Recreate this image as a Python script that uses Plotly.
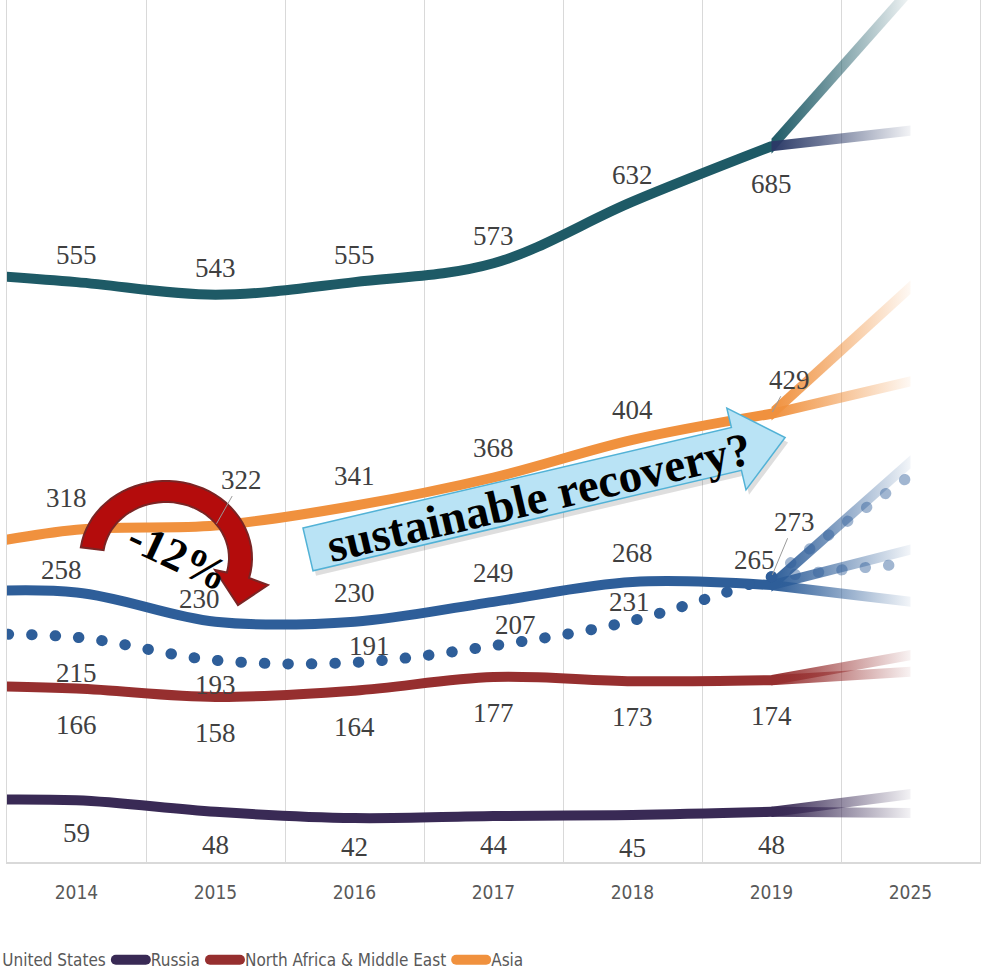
import math
import plotly.graph_objects as go

# ------------------------------------------------------------------ data
years = ["2013", "2014", "2015", "2016", "2017", "2018", "2019", "2025"]
hist_years = ["2013", "2014", "2015", "2016", "2017", "2018", "2019"]
label_years = hist_years[1:]

# the 2013 value lies beyond the left edge of the picture; estimated from the visible line stubs
europe = [565, 555, 543, 555, 573, 632, 685]
north_america = [257, 258, 230, 230, 249, 268, 265]
united_states = [218, 215, 193, 191, 207, 231, 273]
russia = [59, 59, 48, 42, 44, 45, 48]
mena = [169, 166, 158, 164, 177, 173, 174]
asia = [296, 318, 322, 341, 368, 404, 429]

# 2025 scenarios (fan of projections from 2019)
europe_2025 = [835, 700]
asia_2025 = [550, 460]
north_america_2025 = [383, 299, 249]
united_states_2025 = [370, 286]
mena_2025 = [198, 182]
russia_2025 = [65, 47]

# ------------------------------------------------------------------ layout constants
W, H = 987, 972
ML, MR, MT, MB = 7, 7, 0, 110
Y_MAX = 825
PW, PH = W - ML - MR, H - MT - MB
YPX = PH / Y_MAX          # pixels per unit
XPX = PW / 7              # pixels per category

SERIF = "Liberation Serif, DejaVu Serif, serif"
NARROW = ("Noto Sans ExtraCondensed, Noto Sans Condensed, DejaVu Sans Condensed, "
          "Liberation Sans Narrow, Liberation Sans, sans-serif")
LABEL_COLOR = "#404040"
LW = 10


def rgba(c, a):
    return "rgba(%d,%d,%d,%.3f)" % (c[0], c[1], c[2], a)


def paper(px, py):
    return (px - ML) / PW, (H - MB - py) / PH


series = [
    dict(name="Europe", y=europe, color=(30, 90, 102), width=LW, dash="solid", legend=False,
         proj=europe_2025, proj_colors=[(30, 90, 102), (43, 58, 103)], dy=-27),
    dict(name="North America", y=north_america, color=(46, 94, 153), width=LW, dash="solid", legend=False,
         proj=north_america_2025, proj_colors=[(46, 94, 153)] * 3, dy=-29),
    dict(name="United States", y=united_states, color=(46, 94, 153), width=11, dash="0.5px,23px", legend=True,
         proj=united_states_2025, proj_colors=[(46, 94, 153)] * 2, dy=-20),
    dict(name="Russia", y=russia, color=(57, 42, 85), width=LW, dash="solid", legend=True,
         proj=russia_2025, proj_colors=[(57, 42, 85)] * 2, dy=33),
    dict(name="North Africa & Middle East", y=mena, color=(150, 47, 47), width=LW, dash="solid", legend=True,
         proj=mena_2025, proj_colors=[(150, 47, 47)] * 2, dy=36),
    dict(name="Asia", y=asia, color=(240, 145, 62), width=LW, dash="solid", legend=True,
         proj=asia_2025, proj_colors=[(240, 145, 62)] * 2, dy=-30),
]

# label placement tweaks (pixels; dy>0 = below the point) and leader-line labels
label_shift = {
    ("Europe", "2019"): (0, 38),
    ("Asia", "2014"): (-10, -32),
    ("North America", "2014"): (-15, -22),
    ("North America", "2015"): (-16, -23),
    ("North America", "2019"): (-17, -25),
    ("United States", "2014"): (0, 36),
    ("United States", "2015"): (0, 25),
    ("United States", "2016"): (15, -16),
    ("United States", "2017"): (22, -21),
    ("United States", "2018"): (-3, -19),
    ("Russia", "2016"): (0, 29),
    ("Russia", "2017"): (0, 29),
}
leader = {
    ("Asia", "2015"): (26, -46),
    ("Asia", "2019"): (18, -34),
    ("United States", "2019"): (23, -55),
}

fig = go.Figure()

# main lines
for s in series:
    fig.add_trace(go.Scatter(
        x=hist_years, y=s["y"], name=s["name"], mode="lines", showlegend=s["legend"],
        line=dict(color=rgba(s["color"], 1), width=s["width"], dash=s["dash"],
                  shape="spline", smoothing=1.0),
        hoverinfo="skip"))

# projections 2019 -> 2025 (fading bands; dotted ones as faint dotted lines)
for s in series:
    v0 = s["y"][-1]
    for v1, c in zip(s["proj"], s["proj_colors"]):
        if s["dash"] != "solid":
            fig.add_trace(go.Scatter(
                x=["2019", "2025"], y=[v0, v1], mode="lines", showlegend=False,
                line=dict(color=rgba(c, 0.45), width=s["width"], dash=s["dash"]),
                hoverinfo="skip"))
            continue
        dy_px = (v1 - v0) * YPX
        sec = math.hypot(XPX, dy_px) / XPX
        h = s["width"] / 2 * sec / YPX
        fig.add_trace(go.Scatter(
            x=["2019", "2025", "2025", "2019", "2019"],
            y=[v0 - h, v1 - h, v1 + h, v0 + h, v0 - h],
            mode="lines", line=dict(width=0), fill="toself",
            fillgradient=dict(type="horizontal",
                              colorscale=[[0, rgba(c, 1)], [0.35, rgba(c, 0.7)], [1, rgba(c, 0.06)]]),
            showlegend=False, hoverinfo="skip"))

annotations = []
for s in series:
    for yr, v in zip(label_years, s["y"][1:]):
        key = (s["name"], yr)
        xi = years.index(yr)
        if key in leader:
            ax, ay = leader[key]
            annotations.append(dict(
                x=xi, y=v, xref="x", yref="y", text=str(v), showarrow=True,
                ax=ax, ay=ay, arrowhead=0, arrowwidth=1, arrowcolor="#9a9a9a",
                standoff=2, font=dict(family=SERIF, size=27, color=LABEL_COLOR)))
        else:
            dx, dy = label_shift.get(key, (0, s["dy"]))
            annotations.append(dict(
                x=xi, y=v, xref="x", yref="y", text=str(v), showarrow=False,
                xanchor="center", yanchor="middle", xshift=dx, yshift=-dy,
                font=dict(family=SERIF, size=27, color=LABEL_COLOR)))

# ------------------------------------------------------------------ decorations
shapes = []

# curved red arrow (-12%)
def ell(cx, cy, rx, ry, a0, a1, k=40):
    return [(cx + rx * math.cos(math.radians(a0 + (a1 - a0) * i / k)),
             cy - ry * math.sin(math.radians(a0 + (a1 - a0) * i / k))) for i in range(k + 1)]

outer = ell(166, 558, 86, 77, 172, -15)
inner = ell(166, 558, 63, 56, -15, 172)
head = [(268, 585), (238, 605), (215, 570)]
pts = outer + head + inner
path = "M " + " L ".join("%.4f,%.4f" % paper(*p) for p in pts) + " Z"
shapes.append(dict(type="path", xref="paper", yref="paper", path=path,
                   fillcolor="#b40c0c", line=dict(color="#7a2424", width=2), layer="above"))

# block arrow "sustainable recovery?"
ang = math.radians(13.2)
dvec = (math.cos(ang), -math.sin(ang))
nvec = (math.sin(ang), math.cos(ang))
TL = (303, 528)
L, BW, BARB, HEAD = 440, 44, 20, 50
def add(p, v, k):
    return (p[0] + v[0] * k, p[1] + v[1] * k)
TR = add(TL, dvec, L)
BR = add(TR, nvec, BW)
BL = add(TL, nvec, BW)
UB = add(TR, nvec, -BARB)
LB = add(BR, nvec, BARB)
TIP = add(add(TR, nvec, BW / 2), dvec, HEAD)
arrow = [TL, TR, UB, TIP, LB, BR, BL]
for off, fill, line in [((3, 5), "rgba(0,0,0,0.13)", None),
                        ((0, 0), "#b9e3f5", dict(color="#52b2d6", width=1.5))]:
    p = "M " + " L ".join("%.4f,%.4f" % paper(x + off[0], y + off[1]) for x, y in arrow) + " Z"
    shapes.append(dict(type="path", xref="paper", yref="paper", path=p, fillcolor=fill,
                       line=line if line else dict(width=0), layer="above"))

cx, cy = paper(539, 497)
annotations.append(dict(x=cx, y=cy, xref="paper", yref="paper", text="<b>sustainable recovery?</b>",
                        showarrow=False, textangle=-13.2, xanchor="center", yanchor="middle",
                        font=dict(family=SERIF, size=47, color="#000000")))
cx, cy = paper(178, 556)
annotations.append(dict(x=cx, y=cy, xref="paper", yref="paper", text="<b>-12%</b>",
                        showarrow=False, textangle=25, xanchor="center", yanchor="middle",
                        font=dict(family=SERIF, size=45, color="#000000")))

fig.update_layout(
    width=W, height=H,
    margin=dict(l=ML, r=MR, t=MT, b=MB, autoexpand=False),
    paper_bgcolor="white", plot_bgcolor="white",
    hovermode=False,
    showlegend=True,
    legend=dict(orientation="h", x=-0.046, xanchor="left", y=-0.114, yanchor="middle",
                font=dict(family=NARROW, size=17, color="#595959"),
                bgcolor="rgba(0,0,0,0)"),
    xaxis=dict(type="category", categoryorder="array", categoryarray=years,
               range=[0.5, 7.5], tickson="boundaries", showgrid=True,
               gridcolor="#d9d9d9", gridwidth=1, showline=True, linecolor="#d9d9d9",
               linewidth=1.5, ticks="", ticklabelstandoff=12,
               tickfont=dict(family=NARROW, size=19, color="#595959")),
    yaxis=dict(range=[0, Y_MAX], showgrid=False, zeroline=False, showticklabels=False,
               ticks="", showline=True, mirror=True, linecolor="#d9d9d9", linewidth=1),
    annotations=annotations,
    shapes=shapes,
)

post = """
document.body.style.margin = '0px';
document.body.style.overflow = 'hidden';
var gd = document.getElementById('{plot_id}');
function roundCaps(){
  gd.querySelectorAll('path.js-line').forEach(function(p){
    p.style.strokeLinecap = 'round'; p.style.strokeLinejoin = 'round';
  });
}
roundCaps();
gd.on('plotly_afterplot', roundCaps);
"""

fig.write_html("out.html", post_script=post, config={"displayModeBar": False})
